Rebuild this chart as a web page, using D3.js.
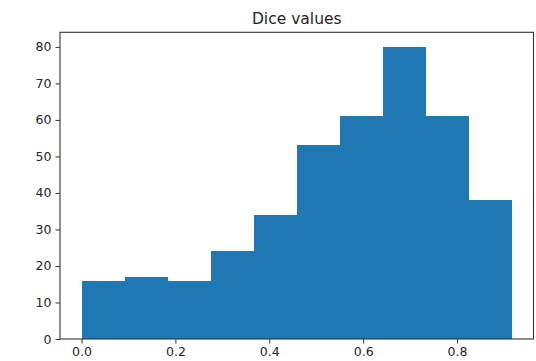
<!DOCTYPE html>
<html>
<head>
<meta charset="utf-8">
<script src="https://cdn.jsdelivr.net/npm/d3@7"></script>
<style>
  html, body { margin: 0; padding: 0; background: #fff; }
  svg { display: block; }
</style>
</head>
<body>
<div id="chart"></div>
<script>
// Data
const title = "Dice values";
const binEdges = [0, 0.0917, 0.1834, 0.2751, 0.3668, 0.4585, 0.5502, 0.6419, 0.7336, 0.8253, 0.917];
const counts = [16, 17, 16, 24, 34, 53, 61, 80, 61, 38];
const xTicks = [0.0, 0.2, 0.4, 0.6, 0.8];
const yTicks = [0, 10, 20, 30, 40, 50, 60, 70, 80];

const W = 536, H = 361;
const mLeft = 60, mRight = 533.5, mTop = 32.3, mBottom = 339;

const svg = d3.select("#chart").append("svg").attr("width", W).attr("height", H);

const xMin = binEdges[0], xMax = binEdges[binEdges.length - 1];
const pad = (xMax - xMin) * 0.05;
const x = d3.scaleLinear().domain([xMin - pad, xMax + pad]).range([mLeft, mRight]);
const y = d3.scaleLinear().domain([0, d3.max(counts) * 1.05]).range([mBottom, mTop]);

const bins = counts.map((c, i) => ({ x0: binEdges[i], x1: binEdges[i + 1], c }));

svg.append("g").selectAll("rect").data(bins).join("rect")
  .attr("x", d => x(d.x0))
  .attr("y", d => y(d.c))
  .attr("width", d => x(d.x1) - x(d.x0))
  .attr("height", d => y(0) - y(d.c))
  .attr("fill", "#1f77b4")
  .attr("shape-rendering", "crispEdges");

const font = "'DejaVu Sans', sans-serif";

const xAxis = svg.append("g").attr("transform", `translate(0,${mBottom})`)
  .call(d3.axisBottom(x).tickValues(xTicks).tickFormat(d3.format(".1f")).tickSizeOuter(0).tickSize(4.5).tickPadding(4));
const yAxis = svg.append("g").attr("transform", `translate(${mLeft},0)`)
  .call(d3.axisLeft(y).tickValues(yTicks).tickFormat(d3.format("d")).tickSizeOuter(0).tickSize(4.5).tickPadding(4));

[xAxis, yAxis].forEach(g => {
  g.select(".domain").remove();
  g.selectAll(".tick line").attr("stroke", "#333").attr("stroke-width", 1);
  g.selectAll(".tick text").attr("fill", "#262626").style("font-family", font).style("font-size", "12.5px");
});

// Frame (spines)
svg.append("rect")
  .attr("x", mLeft).attr("y", mTop)
  .attr("width", mRight - mLeft).attr("height", mBottom - mTop)
  .attr("fill", "none").attr("stroke", "#333").attr("stroke-width", 1.1);

svg.append("text")
  .attr("x", (mLeft + mRight) / 2).attr("y", mTop - 8)
  .attr("text-anchor", "middle")
  .attr("fill", "#262626")
  .style("font-family", font).style("font-size", "15.5px")
  .text(title);
</script>
</body>
</html>
